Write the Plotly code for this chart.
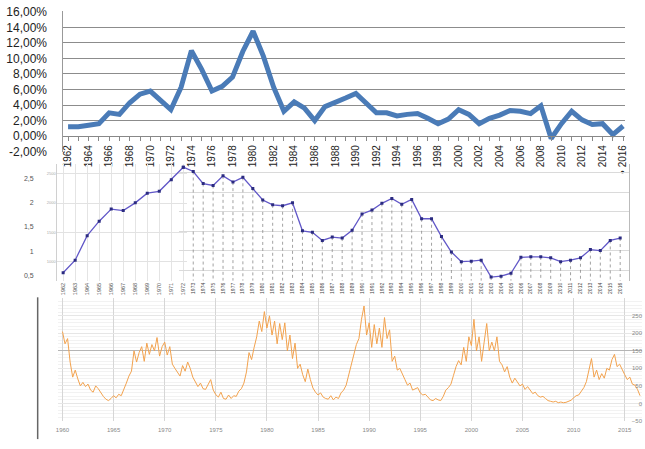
import plotly.graph_objects as go

W, H = 645, 449


def px_x(p):
    return p / W


def px_y(p):
    return 1 - p / H


# ---------------- Panel 1: inflation rate (%) ----------------
infl_years = list(range(1962, 2017))
infl_values = [1.2, 1.2, 1.4, 1.6, 3.0, 2.8, 4.3, 5.4, 5.8, 4.5,
               3.4, 6.3, 11.0, 8.6, 5.8, 6.4, 7.6, 10.9, 13.5, 10.3,
               6.3, 3.2, 4.4, 3.6, 2.0, 3.8, 4.3, 4.9, 5.5, 4.3,
               3.0, 3.0, 2.6, 2.8, 2.9, 2.3, 1.6, 2.2, 3.4, 2.8,
               1.6, 2.3, 2.7, 3.3, 3.2, 2.9, 3.9, -0.3, 1.6, 3.2,
               2.1, 1.5, 1.6, 0.2, 1.3]
infl_tick_years = list(range(1962, 2017, 2))
infl_tick_text = [str(y) for y in infl_tick_years[:-1]] + ["• 2016"]
infl_yticks = list(range(-2, 17, 2))
infl_ytext = [f"{v:.2f}%".replace(".", ",") for v in infl_yticks]

# ---------------- Panel 2: index series ----------------
mid_years_a = list(range(1962, 1973))
mid_values_a = [0.55, 0.81, 1.32, 1.62, 1.87, 1.84, 2.00, 2.20, 2.24, 2.48, 2.74]
mid_years_b = list(range(1973, 2017))
mid_values_b = [2.65, 2.40, 2.36, 2.56, 2.43, 2.53, 2.30, 2.06, 1.96, 1.94,
                2.00, 1.42, 1.39, 1.22, 1.29, 1.27, 1.43, 1.77, 1.85, 1.99,
                2.09, 1.97, 2.07, 1.67, 1.67, 1.30, 0.98, 0.78, 0.79, 0.81,
                0.46, 0.48, 0.54, 0.87, 0.88, 0.88, 0.86, 0.78, 0.81, 0.86,
                1.03, 1.01, 1.22, 1.27]
mid_label_vals = [0.5, 1.0, 1.5, 2.0, 2.5]
mid_label_text = ["0,5", "1", "1,5", "2", "2,5"]
mid_inner_text = ["1000", "1500", "2000", "2500"]

# ---------------- Panel 3: sunspot number (quarterly readings) ----------------
ss_years = list(range(1960, 2017))
ss_quarters = [
    [205, 170, 185, 118], [75, 95, 70, 50], [60, 48, 55, 38], [32, 50, 42, 30],
    [20, 12, 8, 14], [22, 16, 26, 22], [38, 58, 78, 92], [150, 118, 145, 162],
    [120, 172, 140, 168], [150, 188, 135, 162], [175, 138, 162, 112], [100, 88, 78, 108],
    [92, 118, 100, 75], [62, 48, 58, 42], [40, 55, 68, 38], [25, 18, 32, 14],
    [12, 24, 14, 22], [20, 35, 42, 58], [90, 145, 125, 160], [190, 235, 205, 262],
    [215, 250, 195, 235], [170, 228, 182, 230], [150, 195, 128, 172], [100, 112, 82, 62],
    [98, 68, 44, 32], [24, 30, 18, 14], [12, 22, 10, 18], [14, 30, 38, 52],
    [82, 112, 140, 168], [185, 240, 278, 195], [230, 160, 225, 170], [215, 160, 245, 185],
    [210, 120, 135, 95], [100, 82, 68, 52], [58, 38, 42, 45], [30, 24, 26, 18],
    [10, 8, 14, 10], [8, 20, 38, 45], [55, 80, 105, 122], [110, 160, 120, 190],
    [165, 240, 150, 190], [120, 175, 228, 150], [175, 150, 190, 120], [110, 90, 105, 75],
    [58, 72, 62, 50], [55, 40, 48, 36], [28, 32, 22, 18], [20, 14, 8, 6],
    [4, 6, 2, 4], [2, 3, 6, 9], [16, 22, 24, 36], [45, 62, 92, 128],
    [75, 95, 68, 85], [72, 100, 95, 125], [140, 105, 112, 95], [82, 68, 75, 55],
    [52, 40, 22],
]
ss_t, ss_v = [], []
for yr, qs in zip(ss_years, ss_quarters):
    for i, v in enumerate(qs):
        ss_t.append(yr + i / 4)
        ss_v.append(v)
ss_xticks = list(range(1960, 2016, 5))
ss_yticks = list(range(-50, 300, 50))

FONT = "Liberation Sans"

fig = go.Figure()

# Panel 1
fig.add_trace(go.Scatter(x=infl_years, y=infl_values, mode="lines",
                         line=dict(color="#4a7bb7", width=5),
                         xaxis="x", yaxis="y", showlegend=False, hoverinfo="skip"))

# Panel 2 left part
MID_RANGE = [0.383, 2.80]
fig.add_trace(go.Scatter(x=mid_years_a, y=mid_values_a, mode="lines+markers",
                         line=dict(color="#6258c8", width=1.3),
                         marker=dict(size=3, color="#2b2b80", symbol="square"),
                         xaxis="x2", yaxis="y2", showlegend=False, hoverinfo="skip"))
fig.add_trace(go.Scatter(x=mid_years_a, y=mid_values_a, mode="markers",
                         marker=dict(opacity=0), xaxis="x2", yaxis="y3",
                         showlegend=False, hoverinfo="skip"))

# Panel 2 right part: dotted drop lines then line
drop_x, drop_y = [], []
for yr, v in zip(mid_years_b, mid_values_b):
    drop_x += [yr, yr, None]
    drop_y += [v, MID_RANGE[0], None]
fig.add_trace(go.Scatter(x=drop_x, y=drop_y, mode="lines",
                         line=dict(color="#8a8a8a", width=0.8, dash="dot"),
                         xaxis="x4", yaxis="y4", showlegend=False, hoverinfo="skip"))
fig.add_trace(go.Scatter(x=mid_years_a[-1:] + mid_years_b,
                         y=mid_values_a[-1:] + mid_values_b, mode="lines+markers",
                         line=dict(color="#6258c8", width=1.3),
                         marker=dict(size=3, color="#2b2b80", symbol="square"),
                         xaxis="x4", yaxis="y4", showlegend=False, hoverinfo="skip"))

# Panel 3
fig.add_trace(go.Scatter(x=ss_t, y=ss_v, mode="lines",
                         line=dict(color="#f2a24e", width=1),
                         xaxis="x5", yaxis="y5", showlegend=False, hoverinfo="skip"))
fig.add_trace(go.Scatter(x=ss_t, y=ss_v, mode="markers", marker=dict(opacity=0),
                         xaxis="x5", yaxis="y6", showlegend=False, hoverinfo="skip"))
fig.add_trace(go.Scatter(x=ss_t, y=ss_v, mode="markers", marker=dict(opacity=0),
                         xaxis="x5", yaxis="y7", showlegend=False, hoverinfo="skip"))

TOP_RANGE = [-2.02, 16.1]
TOP_PX_PER_UNIT = 8.0
TOP_ZERO_PX = 134

fig.update_layout(
    width=W, height=H,
    margin=dict(l=0, r=0, t=0, b=0),
    paper_bgcolor="white", plot_bgcolor="rgba(0,0,0,0)",
    separators=",.",
    font=dict(family=FONT, color="#333"),
    showlegend=False,
    # ---- panel 1
    xaxis=dict(domain=[px_x(61), px_x(628)], range=[1961.55, 2016.2],
               anchor="free", position=px_y(TOP_ZERO_PX),
               tickvals=infl_tick_years, ticktext=infl_tick_text, tickangle=-90,
               tickfont=dict(size=10, color="#222"),
               ticks="outside", ticklen=4, tickcolor="#888",
               minor=dict(dtick=1, ticks="outside", ticklen=4, tickcolor="#888"),
               showline=True, linecolor="#888", showgrid=False, zeroline=False),
    yaxis=dict(domain=[px_y(TOP_ZERO_PX - TOP_RANGE[0] * TOP_PX_PER_UNIT),
                       px_y(TOP_ZERO_PX - TOP_RANGE[1] * TOP_PX_PER_UNIT)],
               range=TOP_RANGE, anchor="x",
               tickvals=infl_yticks, ticktext=infl_ytext,
               tickfont=dict(size=12, color="#222"), ticklabelstandoff=13,
               ticklabeloverflow="allow",
               showgrid=True, gridcolor="#8c8c8c", gridwidth=1,
               zeroline=False, showline=True, linecolor="#999"),
    # ---- panel 2 left
    xaxis2=dict(domain=[px_x(55), px_x(186)], range=[1961.53, 1972.33], anchor="y2",
                tickvals=mid_years_a, ticktext=[str(y) for y in mid_years_a],
                tickangle=-90, tickfont=dict(size=5.5, color="#555"),
                showgrid=True, gridcolor="#e4e4e4", zeroline=False, ticks=""),
    yaxis2=dict(domain=[px_y(283), px_y(163)], range=MID_RANGE, anchor="x2",
                tickvals=[0.786, 1.391, 1.996, 2.601], ticktext=mid_inner_text,
                tickfont=dict(size=4, color="#aaa"),
                showgrid=True, gridcolor="#e2e2e2", zeroline=False,
                showline=True, linecolor="#d0d0d0", ticks=""),
    yaxis3=dict(overlaying="y2", range=MID_RANGE, anchor="free", position=px_x(31),
                tickvals=mid_label_vals, ticktext=mid_label_text,
                tickfont=dict(size=7, color="#555"), showgrid=False,
                zeroline=False, showline=False, ticks=""),
    # ---- panel 2 right
    xaxis4=dict(domain=[px_x(178), px_x(632)], range=[1971.6, 2016.9], anchor="y4",
                tickvals=mid_years_b, ticktext=[str(y) for y in mid_years_b],
                tickangle=-90, tickfont=dict(size=5, color="#444"),
                showgrid=False, zeroline=False, ticks=""),
    yaxis4=dict(domain=[px_y(283), px_y(163)], range=MID_RANGE, anchor="x4",
                side="right", tick0=0.605, dtick=0.4032, showticklabels=False,
                showgrid=True, gridcolor="#dadada", zeroline=False,
                showline=True, linecolor="#bbb", ticks=""),
    # ---- panel 3
    xaxis5=dict(domain=[px_x(56), 1], range=[1959.61, 2016.69], anchor="y5",
                tickvals=ss_xticks, tickfont=dict(size=6, color="#888"),
                showgrid=True, gridcolor="#d6d6d6", zeroline=False, ticks="",
                ticklabelstandoff=4),
    yaxis5=dict(domain=[px_y(427.3), px_y(301)], range=[-50, 300], anchor="x5",
                tickvals=ss_yticks, showticklabels=False,
                showgrid=True, gridcolor="#e6e6e6", zeroline=False, ticks="",
                minor=dict(dtick=10, showgrid=True, gridcolor="#f2f2f2")),
    yaxis6=dict(overlaying="y5", range=[-50, 300], anchor="free", position=1.0,
                side="left", tickvals=ss_yticks, tickfont=dict(size=6, color="#888"),
                showgrid=False, zeroline=False, showline=False, ticks=""),
    yaxis7=dict(overlaying="y5", range=[-50, 300], anchor="x5", side="right",
                tickvals=[150], showticklabels=False, showgrid=True,
                gridcolor="#b5b5b5", zeroline=False, ticks=""),
    shapes=[dict(type="line", xref="paper", yref="paper",
                 x0=px_x(35), x1=px_x(35), y0=px_y(300), y1=px_y(446),
                 line=dict(color="#666", width=1.5))],
)

fig.write_html("out.html",
               config={"displayModeBar": False},
               post_script="document.body.style.margin='0';"
                           "document.body.style.overflow='hidden';")
